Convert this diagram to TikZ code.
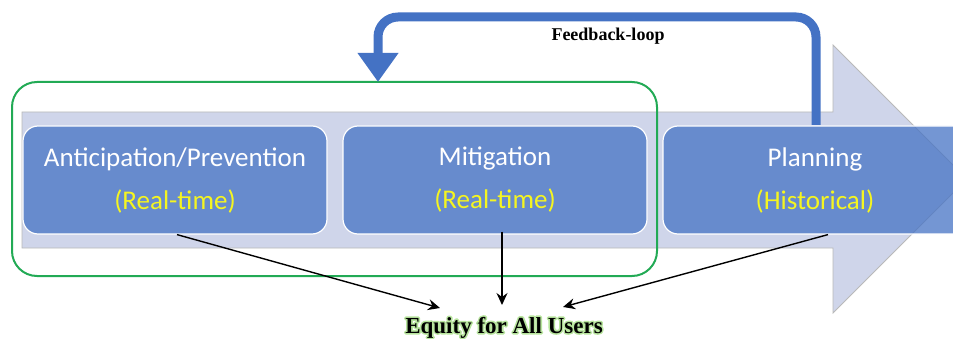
\documentclass[tikz,border=0pt]{standalone}
\usepackage{fontspec}
\setmainfont{Liberation Serif}
\newfontfamily\calib{Carlito}
\usetikzlibrary{arrows.meta,calc}
\definecolor{shaft}{HTML}{CFD5EA}
\definecolor{boxblue}{HTML}{4472C4}
\definecolor{fbblue}{HTML}{4472C4}
\definecolor{grn}{HTML}{22AA55}
\definecolor{yel}{HTML}{F5F520}
\newcommand{\haloed}[1]{\rlap{\special{pdf:literal 1 Tr 3.2 w 1 j 0.72 0.9 0.62 RG}#1\special{pdf:literal 0 Tr 0 0 0 RG 1 w}}#1}
\tikzset{
  stagebox/.style={rectangle, rounded corners=15pt, fill=boxblue, fill opacity=0.74, text opacity=1,
    draw=white, line width=1.2pt, minimum height=108pt, align=center, text=white,
    font=\calib\fontsize{27}{43}\selectfont, inner sep=0pt},
  link/.style={-{Stealth[length=12pt,width=11pt,inset=4pt]}, line width=1.4pt, black},
  fb/.style={line width=9pt, draw=fbblue, rounded corners=20pt, -{Triangle[width=39pt,length=29pt]}}
}
\begin{document}
\begin{tikzpicture}[x=1pt,y=-1pt]
\useasboundingbox (0,0) rectangle (953,339);
\clip (0,0) rectangle (953,339);
% big arrow
\draw[fill=shaft, draw=gray!55, line width=0.8pt]
  (22,112) -- (833,112) -- (833,45) -- (967,179) -- (833,313) -- (833,248) -- (22,248) -- cycle;
% stage boxes
\node[stagebox, minimum width=304pt] (b1) at (175,180)
  {Anticipation/Prevention\\\textcolor{yel}{(Real-time)}};
\node[stagebox, minimum width=304pt] (b2) at (495,180)
  {Mitigation\\\textcolor{yel}{(Real-time)}};
\node[stagebox, minimum width=304pt] (b3) at (815,180)
  {Planning\\\textcolor{yel}{(Historical)}};
% green grouping frame
\draw[grn, line width=2pt, rounded corners=25pt] (12,82) rectangle (657,276);
% feedback loop
\coordinate (fbs) at (816,125);
\coordinate (fbe) at (378,82);
\draw[fb] (fbs) -- (816,17) -- (378,17) -- (fbe);
\node[font=\bfseries\fontsize{18}{20}\selectfont] (fbl) at (608,36) {Feedback-loop};
% equity
\node[font=\bfseries\fontsize{23}{26}\selectfont, anchor=base] (eq) at (504,333)
  {\haloed{Equity for All Users}};
\coordinate (s1) at ($(b1.south)+(2,0)$);
\coordinate (s2) at ($(b2.south)+(7,-3)$);
\coordinate (s3) at ($(b3.south)+(13,0)$);
\coordinate (e1) at (440,308);
\coordinate (e2) at (502,305);
\coordinate (e3) at (563,307);
\draw[link] (s1) -- (e1);
\draw[link] (s2) -- (e2);
\draw[link] (s3) -- (e3);
\end{tikzpicture}
\end{document}
